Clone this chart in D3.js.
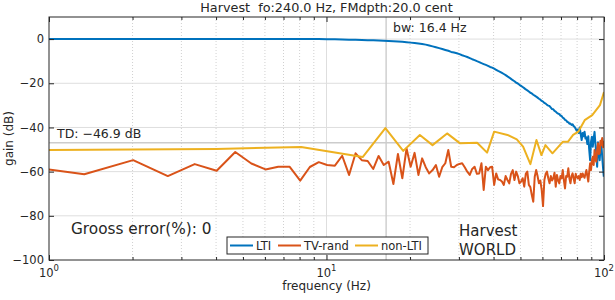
<!DOCTYPE html>
<html>
<head>
<meta charset="utf-8">
<script src="https://cdn.jsdelivr.net/npm/d3@7"></script>
<style>
  body { margin: 0; background: #fff; }
  text { font-family: "DejaVu Sans", sans-serif; fill: #262626; white-space: pre; }
</style>
</head>
<body>
<div id="chart"></div>
<script>
/* data */

// LTI and TV-rand are sampled on a uniform frequency grid (bin spacing in Hz)
var binHz = 0.67

var ltiGain = [
  0, 0, 0, 0, 0, 0, 0, 0, 0, 0, 0, 0, 0, 0,
  -0.1, -0.1, -0.2, -0.3, -0.35, -0.4, -0.5, -0.55, -0.65, -0.75, -0.85, -0.95, -1.1, -1.25, -1.4, -1.6,
  -1.8, -2.0, -2.2, -2.5, -2.9, -3.3, -3.7, -4.1, -4.5, -4.9,
  -5.3, -5.8, -6.1, -6.4, -6.8, -7.3, -7.7, -8.1, -8.6, -9.1,
  -9.5, -10.0, -10.4, -10.9, -11.3, -11.7, -12.1, -12.6, -12.9, -13.4,
  -13.9, -14.4, -14.8, -15.3, -15.8, -16.3, -16.9, -17.4, -18.0, -18.6,
  -19.1, -19.7, -20.1, -20.7, -21.2, -21.7, -22.2, -22.8, -23.2, -23.7,
  -24.3, -24.6, -25.2, -25.6, -26.0, -26.5, -27.0, -27.4, -28.0, -28.3,
  -28.9, -29.2, -29.8, -30.1, -30.3, -31.0, -31.7, -31.8, -32.5, -32.8,
  -33.4, -33.7, -34.0, -34.6, -34.8, -35.6, -35.9, -36.6, -36.8, -37.5,
  -37.6, -38.3, -38.2, -38.9, -38.6, -39.4, -39.8, -40.6, -41.5, -41.0,
  -42.5, -40.0, -43.0, -45.7, -42.5, -44.0, -41.9, -45.0, -44.5, -47.5,
  -44.0, -50.0, -54.8, -46.5, -44.2, -48.7, -45.0, -42.0, -47.5, -52.0,
  -57.8, -46.7, -50.0, -54.8, -49.0, -47.2, -53.0, -58.0, -62.3
]

var tvRandGain = [
  -56.0, -61.2, -54.8, -62.0, -56.6, -59.6, -51.1, -56.3, -59.0, -57.8,
  -57.8, -64.1, -57.9, -55.7, -57.0, -57.3, -52.8, -61.5, -51.7, -54.8,
  -55.2, -58.8, -52.9, -57.0, -55.5, -65.6, -52.0, -63.0, -49.5, -57.8,
  -51.5, -61.5, -54.0, -58.0, -60.8, -59.3, -57.0, -62.3, -58.0, -56.2,
  -50.2, -57.8, -58.0, -57.0, -56.5, -56.2, -58.0, -60.0, -61.5, -58.8,
  -57.8, -61.0, -60.8, -56.2, -68.3, -57.8, -59.3, -58.0, -57.8, -66.0,
  -60.8, -63.5, -63.8, -64.5, -66.0, -62.0, -63.8, -65.3, -61.0, -59.3,
  -63.8, -60.0, -62.0, -65.3, -64.5, -63.0, -66.8, -61.0, -60.0, -66.0,
  -67.0, -70.6, -73.6, -62.3, -59.3, -62.0, -65.3, -64.0, -68.3, -75.6,
  -63.8, -61.0, -60.0, -63.0, -65.3, -62.0, -64.0, -63.0, -60.5, -66.8,
  -61.5, -64.0, -65.3, -62.0, -63.0, -59.3, -64.0, -67.6, -62.0, -62.3,
  -58.5, -63.0, -65.3, -62.0, -60.8, -63.0, -65.3, -61.0, -62.3, -63.0,
  -62.0, -63.8, -61.0, -62.5, -60.8, -62.0, -62.8, -61.0, -59.3, -62.0,
  -64.5, -60.0, -56.2, -59.3, -55.0, -53.3, -57.0, -50.2, -54.0, -55.5,
  -50.0, -47.2, -52.0, -51.6, -46.0, -48.0, -44.8, -49.0, -46.0
]

// non-LTI is measured at its own (sparser) set of frequencies
var nonLtiFreq = [1, 4, 8.1, 13.5, 16.3, 18.9, 21.7, 24.1, 27.2, 30.3, 34.9, 37.9, 40.2, 44.9,
  48.5, 51.1, 54.3, 57.1, 59.5, 61.5, 65.2, 71.0, 74.1, 77.4, 80.8, 85.2, 90.7, 96.7, 100]
var nonLtiGain = [-50.2, -49.7, -48.8, -53.4, -40.3, -50.6, -43.4, -48.0, -42.7, -47.2, -46.9, -51.4, -41.9, -43.4,
  -45.4, -48.7, -56.6, -45.7, -52.5, -48.0, -51.7, -46.5, -46.5, -43.4, -41.9, -36.7, -34.4, -29.9, -24.0]

var seriesNames = ["LTI", "TV-rand", "non-LTI"]
var seriesColors = ["#0072bd", "#d95319", "#edb120"]

var yTicks = [0, -20, -40, -60, -80, -100]
var xTicks = [1, 10, 100]
var xMinor = [2, 3, 4, 5, 6, 7, 8, 9, 20, 30, 40, 50, 60, 70, 80, 90]

var tdValue = -46.9   // dB
var bwValue = 16.4    // Hz
var titleText = "Harvest  fo:240.0 Hz, FMdpth:20.0 cent"

/* end data */

var width = 615, height = 300
// note: "top" is a reserved window property, so use plot* names
var plotLeft = 49, plotRight = 604, plotTop = 17, plotBottom = 260

var svg = d3.select("#chart").append("svg")
  .attr("width", width)
  .attr("height", height)

var x = d3.scaleLog().domain([1, 100]).range([plotLeft, plotRight])
var y = d3.scaleLinear().domain([-100, 10]).range([plotBottom, plotTop])

svg.append("clipPath").attr("id", "plotClip")
  .append("rect")
  .attr("x", plotLeft).attr("y", plotTop)
  .attr("width", plotRight - plotLeft).attr("height", plotBottom - plotTop)

// grid
var grid = svg.append("g")
grid.selectAll(".minor")
  .data(xMinor)
  .enter().append("line")
  .attr("x1", d => x(d)).attr("x2", d => x(d))
  .attr("y1", plotTop).attr("y2", plotBottom)
  .attr("stroke", "#c4c4c4").attr("stroke-width", 0.8)
  .attr("stroke-dasharray", "1,2")
grid.selectAll(".majorY")
  .data(yTicks.filter(d => d > -100))
  .enter().append("line")
  .attr("x1", plotLeft).attr("x2", plotRight)
  .attr("y1", d => y(d)).attr("y2", d => y(d))
  .attr("stroke", "#dedede").attr("stroke-width", 1)
grid.selectAll(".majorX")
  .data(xTicks.filter(d => d > 1 && d < 100))
  .enter().append("line")
  .attr("x1", d => x(d)).attr("x2", d => x(d))
  .attr("y1", plotTop).attr("y2", plotBottom)
  .attr("stroke", "#dedede").attr("stroke-width", 1)

// TD and bandwidth markers
grid.append("line")
  .attr("x1", plotLeft).attr("x2", plotRight)
  .attr("y1", y(tdValue)).attr("y2", y(tdValue))
  .attr("stroke", "#cccccc").attr("stroke-width", 1.4)
grid.append("line")
  .attr("x1", x(bwValue)).attr("x2", x(bwValue))
  .attr("y1", plotTop).attr("y2", plotBottom)
  .attr("stroke", "#cccccc").attr("stroke-width", 1.4)

// series
var seriesData = [
  ltiGain.map((v, i) => ({ f: (i + 1) * binHz, v: v })),
  tvRandGain.map((v, i) => ({ f: (i + 1) * binHz, v: v })),
  nonLtiFreq.map((f, i) => ({ f: f, v: nonLtiGain[i] }))
]

var line = d3.line().x(d => x(d.f)).y(d => y(d.v))

svg.append("g").attr("clip-path", "url(#plotClip)")
  .selectAll("path")
  .data(seriesData)
  .enter().append("path")
  .attr("d", line)
  .attr("fill", "none")
  .attr("stroke", (d, i) => seriesColors[i])
  .attr("stroke-width", 2)
  .attr("stroke-linejoin", "round")

// axes (MATLAB style: box on, ticks inside)
var axisColor = "#262626"

var yAxis = svg.append("g")
  .attr("transform", `translate(${plotLeft},0)`)
  .call(d3.axisLeft(y).tickValues(yTicks).tickSizeInner(-5).tickSizeOuter(0).tickPadding(5))
yAxis.selectAll("text").style("font-size", "11.5px").attr("fill", axisColor)

svg.append("g")
  .attr("transform", `translate(${plotRight},0)`)
  .call(d3.axisRight(y).tickValues(yTicks).tickSizeInner(-5).tickSizeOuter(0).tickFormat(""))

svg.append("g")
  .attr("transform", `translate(0,${plotBottom})`)
  .call(d3.axisBottom(x).tickValues(xTicks).tickSizeInner(-5).tickSizeOuter(0).tickFormat(""))
svg.append("g")
  .attr("transform", `translate(0,${plotBottom})`)
  .call(d3.axisBottom(x).tickValues(xMinor).tickSizeInner(-3).tickSizeOuter(0).tickFormat(""))
svg.append("g")
  .attr("transform", `translate(0,${plotTop})`)
  .call(d3.axisTop(x).tickValues(xTicks).tickSizeInner(-5).tickSizeOuter(0).tickFormat(""))
svg.append("g")
  .attr("transform", `translate(0,${plotTop})`)
  .call(d3.axisTop(x).tickValues(xMinor).tickSizeInner(-3).tickSizeOuter(0).tickFormat(""))

svg.selectAll(".domain").remove()
svg.selectAll(".tick line").attr("stroke", axisColor)

svg.append("rect")
  .attr("x", plotLeft).attr("y", plotTop)
  .attr("width", plotRight - plotLeft).attr("height", plotBottom - plotTop)
  .attr("fill", "none").attr("stroke", axisColor).attr("stroke-width", 1)

// x tick labels as 10^n
var xLabels = svg.append("g")
xTicks.forEach(function (t) {
  var lab = xLabels.append("text")
    .attr("x", x(t))
    .attr("y", 277)
    .attr("text-anchor", "middle")
    .style("font-size", "11.5px")
  lab.append("tspan").text("10")
  lab.append("tspan").attr("dy", -6).style("font-size", "8.5px").text(Math.round(Math.log10(t)))
})

svg.append("text")
  .attr("x", (plotLeft + plotRight) / 2).attr("y", 290)
  .attr("text-anchor", "middle")
  .style("font-size", "12px")
  .text("frequency (Hz)")

svg.append("text")
  .attr("transform", `translate(13,${(plotTop + plotBottom) / 2}) rotate(-90)`)
  .attr("text-anchor", "middle")
  .style("font-size", "12px")
  .text("gain (dB)")

svg.append("text")
  .attr("x", (plotLeft + plotRight) / 2).attr("y", 12)
  .attr("text-anchor", "middle")
  .style("font-size", "12.8px")
  .text(titleText)

// annotations
svg.append("text")
  .attr("x", x(bwValue) + 7).attr("y", 32)
  .style("font-size", "12.5px")
  .text("bw: " + bwValue.toFixed(1) + " Hz")

svg.append("text")
  .attr("x", 57).attr("y", 138)
  .style("font-size", "12.5px")
  .text("TD: " + d3.format(".1f")(tdValue) + " dB")

svg.append("text")
  .attr("x", 71).attr("y", 234)
  .style("font-size", "15.3px")
  .text("Grooss error(%): 0")

var method = svg.append("text").style("font-size", "15px")
method.append("tspan").attr("x", 459).attr("y", 236).text("Harvest")
method.append("tspan").attr("x", 459).attr("y", 255).text("WORLD")

// legend
var legend = svg.append("g")
legend.append("rect")
  .attr("x", 227).attr("y", 237)
  .attr("width", 201).attr("height", 17)
  .attr("fill", "#fff").attr("stroke", axisColor).attr("stroke-width", 1)

var itemX = [230, 278, 355]
var items = legend.selectAll(".item")
  .data(seriesNames)
  .enter().append("g")
  .attr("transform", (d, i) => `translate(${itemX[i]},245.5)`)
items.append("line")
  .attr("x1", 0).attr("x2", 23)
  .attr("stroke", (d, i) => seriesColors[i])
  .attr("stroke-width", 2)
items.append("text")
  .attr("x", 26).attr("y", 4)
  .style("font-size", "11.5px")
  .text(d => d)
</script>
</body>
</html>
